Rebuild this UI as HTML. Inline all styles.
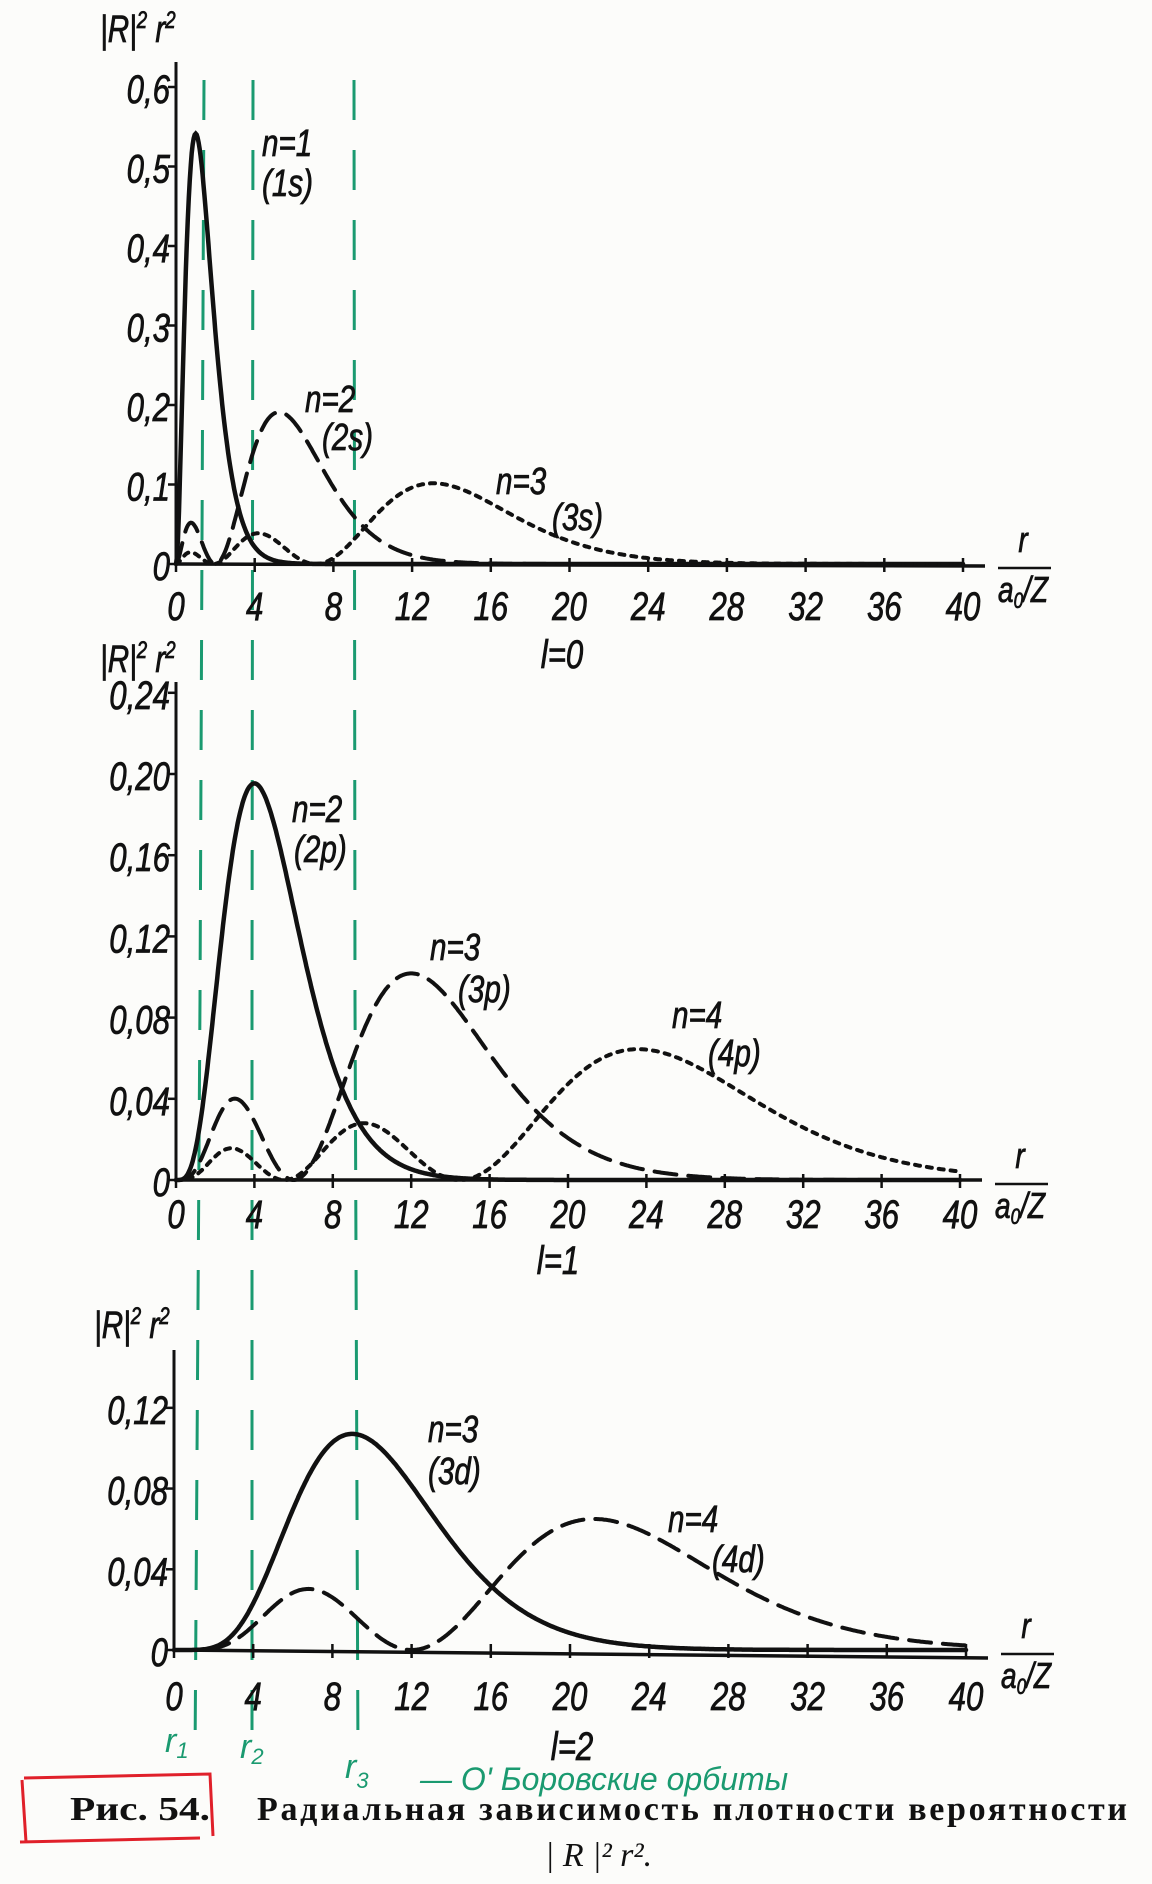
<!DOCTYPE html>
<html><head><meta charset="utf-8">
<style>
html,body{margin:0;padding:0;background:#fcfcfa;}
svg{display:block}
</style></head>
<body>
<svg id="s" width="1152" height="1884" viewBox="0 0 1152 1884" xmlns="http://www.w3.org/2000/svg">
<rect width="1152" height="1884" fill="#fcfcfa"/>
<g id="g"></g>
<g font-family="'Liberation Serif','DejaVu Serif',serif" fill="#111" font-weight="bold">
<text x="70" y="1820" font-size="34" textLength="140" lengthAdjust="spacingAndGlyphs">Рис.  54.</text>
<text x="257" y="1820" font-size="34" textLength="870" lengthAdjust="spacing">Радиальная  зависимость  плотности  вероятности</text>
<text x="545" y="1866" font-size="34" font-weight="normal" font-style="italic">| R |² r².</text>
</g>
<path d="M24,1778 L210,1774 L213,1836 M22,1780 L26,1842 M20,1842 L200,1838" stroke="#e0202a" stroke-width="3" fill="none"/>
<g fill="#1a9a70" font-family="'Liberation Sans',sans-serif" font-style="italic">
<text x="165" y="1752" font-size="34">r<tspan font-size="22" dy="6">1</tspan></text>
<text x="240" y="1758" font-size="34">r<tspan font-size="22" dy="6">2</tspan></text>
<text x="345" y="1778" font-size="34">r<tspan font-size="22" dy="10">3</tspan></text>
<text x="420" y="1790" font-size="32">— O' Боровские  орбиты</text>
</g>
</svg>
<script>
var g=document.getElementById('g');var NS='http://www.w3.org/2000/svg';
function el(t,a,txt){var e=document.createElementNS(NS,t);for(var k in a)e.setAttribute(k,a[k]);if(txt!==undefined)e.textContent=txt;g.appendChild(e);return e;}
function T(x,y,s,size,anchor){var e=el('text',{x:0,y:0,'font-size':size||36,'font-family':"'Liberation Sans',sans-serif",'font-style':'italic','text-anchor':anchor||'start',fill:'#111',stroke:'#111','stroke-width':0.8,transform:'translate('+x+','+y+') scale(0.78,1)'},s);return e;}
[[200,204,195],[252,253,252],[355,354,358]].forEach(function(v){
 el('path',{d:'M'+v[1]+',80 L'+v[0]+',1000 L'+v[2]+',1760',stroke:'#1a9a70','stroke-width':3,fill:'none','stroke-dasharray':'40,30'});
});
function panel(o){
 var x0=o.x0,x1=o.x1,y0=o.y0,sy=o.sy;
 el('line',{x1:x0,y1:o.top,x2:x0,y2:y0+2,stroke:'#111','stroke-width':3});
 el('line',{x1:x0,y1:y0,x2:x1+22,y2:y0+(o.slope||0),stroke:'#111','stroke-width':3.5});
 var ux=(x1-x0)/40;
 for(var i=0;i<=40;i+=4){var xx=x0+i*ux;el('line',{x1:xx,y1:y0-6,x2:xx,y2:y0+8,stroke:'#111','stroke-width':2.5});T(xx,o.ly,String(i),40,'middle');}
 o.yt.forEach(function(v){var yy=y0-v[0]*sy;el('line',{x1:x0-8,y1:yy,x2:x0,y2:yy,stroke:'#111','stroke-width':2.5});T(x0-6,yy+16,v[1],40,'end');});
 T(o.lx,o.lyy,'l='+o.l,40,'middle');
 var t=T(o.yx,o.yy,'|R|',38);t.innerHTML='|R|<tspan font-size="24" dy="-14">2</tspan><tspan dy="14"> r</tspan><tspan font-size="24" dy="-14">2</tspan>';
 T(x1+60,y0-12,'r',36,'middle');el('line',{x1:x1+35,y1:y0+4,x2:x1+88,y2:y0+4,stroke:'#111','stroke-width':2.5});
 var u=T(x1+60,y0+38,'a',36,'middle');u.innerHTML='a<tspan font-size="22" dy="6">0</tspan><tspan dy="-6">/Z</tspan>';
 o.curves.forEach(function(c){
   var d='';for(var k=0;k<=800;k++){var r=k*0.05;var p=c.f(r);var xx=x0+r*ux;var yy=y0-p*sy;if(yy<o.top)yy=o.top;d+=(k?'L':'M')+xx.toFixed(1)+','+yy.toFixed(1);}
   el('path',{d:d,stroke:'#111','stroke-width':c.w,fill:'none','stroke-dasharray':c.da||'none','stroke-linecap':'round'});
 });
 o.ann.forEach(function(a){T(a[0],a[1],a[2],38);});
}
var E=Math.exp;
function s1(r){return 4*r*r*E(-2*r);}
function s2(r){return r*r*(2-r)*(2-r)*E(-r)/8;}
function s3(r){var R=2/(81*Math.sqrt(3))*(27-18*r+2*r*r)*E(-r/3);return r*r*R*R;}
function p2(r){return Math.pow(r,4)*E(-r)/24;}
function p3(r){var R=4/(81*Math.sqrt(6))*r*(6-r)*E(-r/3);return r*r*R*R;}
function p4(r){var R=Math.sqrt(5)/(16*Math.sqrt(3))*r*(1-r/4+r*r/80)*E(-r/4);return r*r*R*R;}
function d3(r){var R=4/(81*Math.sqrt(30))*r*r*E(-r/3);return r*r*R*R;}
function d4(r){var R=1/(64*Math.sqrt(5))*r*r*(1-r/12)*E(-r/4);return r*r*R*R;}
panel({x0:176,x1:963,y0:564,sy:795,top:62,ly:620,lx:562,lyy:668,l:'0',yx:100,yy:42,slope:2,
 yt:[[0,'0'],[0.1,'0,1'],[0.2,'0,2'],[0.3,'0,3'],[0.4,'0,4'],[0.5,'0,5'],[0.6,'0,6']],
 curves:[{f:s1,w:4.5},{f:s2,w:4,da:'22,12'},{f:s3,w:4,da:'5,7'}],
 ann:[[262,156,'n=1'],[262,196,'(1s)'],[305,412,'n=2'],[322,450,'(2s)'],[496,494,'n=3'],[552,530,'(3s)']]});
panel({x0:176,x1:960,y0:1180,sy:2030,top:682,ly:1228,lx:558,lyy:1274,l:'1',yx:100,yy:672,slope:0,
 yt:[[0,'0'],[0.04,'0,04'],[0.08,'0,08'],[0.12,'0,12'],[0.16,'0,16'],[0.2,'0,20'],[0.24,'0,24']],
 curves:[{f:p2,w:4.5},{f:p3,w:4,da:'22,12'},{f:p4,w:4,da:'5,7'}],
 ann:[[292,822,'n=2'],[294,862,'(2p)'],[430,960,'n=3'],[458,1002,'(3p)'],[672,1028,'n=4'],[708,1066,'(4p)']]});
panel({x0:174,x1:966,y0:1650,sy:2018,top:1350,ly:1710,lx:572,lyy:1760,l:'2',yx:94,yy:1338,slope:8,
 yt:[[0,'0'],[0.04,'0,04'],[0.08,'0,08'],[0.12,'0,12']],
 curves:[{f:d3,w:4.5},{f:d4,w:4,da:'22,12'}],
 ann:[[428,1442,'n=3'],[428,1484,'(3d)'],[668,1532,'n=4'],[712,1572,'(4d)']]});
</script>
</body></html>
